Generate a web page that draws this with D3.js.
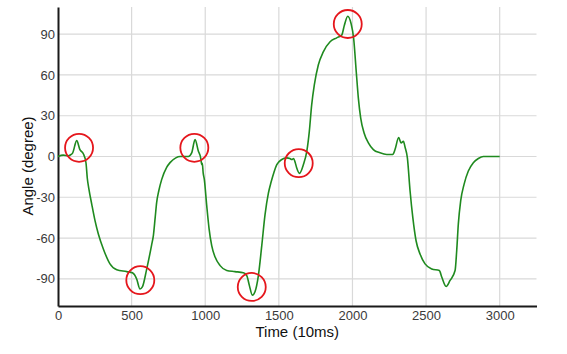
<!DOCTYPE html>
<html>
<head>
<meta charset="utf-8">
<script src="https://cdn.jsdelivr.net/npm/d3@7"></script>
<style>
  body { margin: 0; background: #fff; }
  text { font-family: Arial, "Liberation Sans", sans-serif; }
</style>
</head>
<body>
<div id="chart"></div>
<script>
// time samples (10ms) and angle (degree)
const times = [0, 36, 70, 90, 100, 127, 149, 172, 190, 199, 210, 229, 251, 274, 308, 353, 399, 467, 505, 534,
    557, 573, 602, 636, 648, 660, 670, 685, 704, 738, 761, 800, 829, 885, 908, 931, 953, 970, 976, 980,
    986, 994, 1010, 1026, 1044, 1067, 1101, 1146, 1202, 1259, 1282, 1300, 1320, 1338, 1361, 1384, 1406, 1429, 1447, 1467, 1486,
    1520, 1553, 1575, 1588, 1600, 1610, 1621, 1640, 1667, 1690, 1707, 1723, 1741, 1768, 1802, 1848, 1893, 1927, 1945, 1968,
    1990, 2008, 2026, 2040, 2056, 2079, 2108, 2142, 2187, 2233, 2274, 2289, 2314, 2330, 2346, 2357, 2373, 2391, 2410, 2432,
    2459, 2493, 2539, 2590, 2607, 2636, 2663, 2697, 2708, 2719, 2735, 2758, 2787, 2821, 2855, 2889, 3000];
const angles = [0, 1, 0.5, 1.5, 2.7, 11.7, 5, 2, -4.6, -16, -24, -35, -47, -57, -68, -79, -83.4, -84.7, -85.6, -90,
    -97.5, -96, -83, -65, -58, -45, -34, -25, -17, -8, -4.5, -1, 0, 0, 2.7, 12.4, 4, -1.5, -6, -5,
    -12, -17, -36, -53, -65.6, -74, -80.3, -83.9, -84.7, -85.6, -87.6, -95, -102, -99.5, -87.6, -65.6, -43, -27, -19, -11.5, -6,
    -2.2, -1, -1.5, -2.2, -1.5, -4, -8.3, -12.4, -5.9, 3.9, 18.5, 38, 52.7, 67.3, 77, 84.4, 87.3, 89.3, 96.6, 103.2,
    98, 87, 62, 43, 28.3, 17.3, 10, 5.1, 2.7, 1.5, 1.5, 5.1, 14, 10, 11.2, 7, -1, -25, -45, -62,
    -71.7, -79, -82.7, -83.9, -88.8, -95.6, -91.2, -83.9, -69.3, -49.8, -32.7, -20.5, -10.7, -4.6, -1.5, 0, 0];

// highlighted peaks (red circles)
const markTimes = [143, 559, 926, 1316, 1635, 1968];
const markAngles = [6.4, -91, 6.4, -96, -4.9, 97.5];

const xTicks = [0, 500, 1000, 1500, 2000, 2500, 3000];
const yTicks = [-90, -60, -30, 0, 30, 60, 90];

const width = 567, height = 354;
const plotLeft = 58, plotRight = 536.5, plotTop = 7, plotBottom = 306;

const svg = d3.select('#chart').append('svg')
    .attr('width', width)
    .attr('height', height);

const x = d3.scaleLinear().domain([0, 3250]).range([plotLeft, plotRight]);
const y = d3.scaleLinear().domain([-110, 110]).range([plotBottom, plotTop]);

// grid
svg.append('g').selectAll('line')
    .data(xTicks.filter(d => d > 0))
    .enter().append('line')
    .attr('x1', d => x(d)).attr('x2', d => x(d))
    .attr('y1', plotTop).attr('y2', plotBottom)
    .attr('stroke', '#d9d9d9').attr('stroke-width', 1.2);

svg.append('g').selectAll('line')
    .data(yTicks)
    .enter().append('line')
    .attr('x1', plotLeft).attr('x2', plotRight)
    .attr('y1', d => y(d)).attr('y2', d => y(d))
    .attr('stroke', '#d9d9d9').attr('stroke-width', 1.2);

// axes (plain "-" and no thousands separator, like the original)
const fmt = d => String(d);
const xAxis = svg.append('g')
    .attr('transform', `translate(0, ${plotBottom})`)
    .call(d3.axisBottom(x).tickValues(xTicks).tickFormat(fmt).tickSize(0).tickPadding(5));
const yAxis = svg.append('g')
    .attr('transform', `translate(${plotLeft}, 0)`)
    .call(d3.axisLeft(y).tickValues(yTicks).tickFormat(fmt).tickSize(0).tickPadding(3));

[xAxis, yAxis].forEach(g => {
    g.select('.domain').attr('stroke', '#1a1a1a').attr('stroke-width', 2);
    g.selectAll('text')
        .attr('fill', '#3a3a3a')
        .style('font-size', '13px')
        .style('font-family', 'Arial, "Liberation Sans", sans-serif');
});

// data line
const line = d3.line()
    .x((d, i) => x(times[i]))
    .y(d => y(d))
    .curve(d3.curveMonotoneX);

svg.append('path')
    .datum(angles)
    .attr('d', line)
    .attr('fill', 'none')
    .attr('stroke', '#1f8a1f')
    .attr('stroke-width', 1.6);

// red circles
svg.selectAll('.mark')
    .data(markTimes)
    .enter().append('circle')
    .attr('class', 'mark')
    .attr('cx', d => x(d))
    .attr('cy', (d, i) => y(markAngles[i]))
    .attr('r', 14)
    .attr('fill', 'none')
    .attr('stroke', '#e5161c')
    .attr('stroke-width', 1.8);

// axis titles
svg.append('text')
    .attr('x', (plotLeft + plotRight) / 2)
    .attr('y', 336.5)
    .attr('text-anchor', 'middle')
    .attr('fill', '#111')
    .style('font-size', '15px')
    .text('Time (10ms)');

svg.append('text')
    .attr('transform', 'translate(33, 166) rotate(-90)')
    .attr('text-anchor', 'middle')
    .attr('fill', '#111')
    .style('font-size', '15px')
    .text('Angle (degree)');
</script>
</body>
</html>
